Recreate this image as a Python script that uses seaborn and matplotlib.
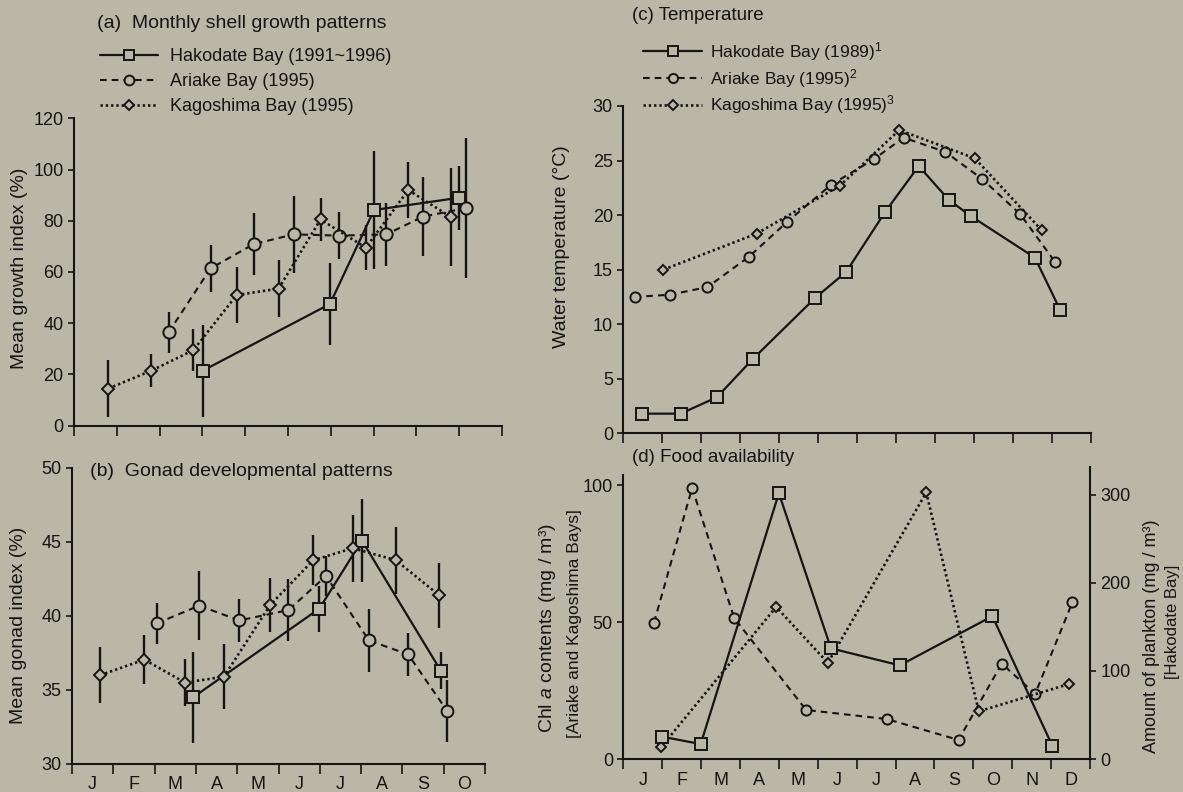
import numpy as np
import matplotlib
matplotlib.use('Agg')
import matplotlib.pyplot as plt
import seaborn as sns
from matplotlib.ticker import FixedLocator, FixedFormatter, NullFormatter

# ---------------- data ----------------
months_a = ['J', 'F', 'M', 'A', 'M', 'J', 'J', 'A', 'S', 'O']
months_d = ['J', 'F', 'M', 'A', 'M', 'J', 'J', 'A', 'S', 'O', 'N', 'D']

# (a) shell growth index (month position, mean, half error bar)
a_hak_x = [3.01, 5.98, 7.01, 9.00]
a_hak_y = [21.5, 47.5, 84.2, 89.0]
a_hak_e = [18.0, 16.0, 23.0, 12.5]
a_ari_x = [2.21, 3.19, 4.20, 5.14, 6.19, 7.30, 8.15, 9.15]
a_ari_y = [36.4, 61.4, 70.9, 74.7, 74.2, 74.7, 81.6, 84.9]
a_ari_e = [8.0, 9.3, 12.2, 15.0, 9.3, 12.2, 15.3, 27.3]
a_kag_x = [0.80, 1.81, 2.79, 3.80, 4.78, 5.76, 6.82, 7.81, 8.80]
a_kag_y = [14.5, 21.5, 29.5, 51.0, 53.5, 80.5, 69.5, 92.0, 81.5]
a_kag_e = [11.2, 6.5, 8.2, 11.0, 11.0, 8.3, 8.8, 11.0, 19.0]

# (b) gonad index
b_hak_x = [2.93, 5.99, 7.02, 8.93]
b_hak_y = [34.5, 40.5, 45.1, 36.3]
b_hak_e = [3.05, 1.55, 2.8, 1.25]
b_ari_x = [2.05, 3.08, 4.05, 5.24, 6.15, 7.19, 8.14, 9.08]
b_ari_y = [39.5, 40.7, 39.7, 40.4, 42.7, 38.35, 37.4, 33.6]
b_ari_e = [1.4, 2.35, 1.45, 2.1, 1.35, 2.15, 1.45, 2.1]
b_kag_x = [0.68, 1.75, 2.74, 3.68, 4.80, 5.84, 6.80, 7.84, 8.89]
b_kag_y = [36.0, 37.05, 35.5, 35.9, 40.75, 43.77, 44.58, 43.77, 41.4]
b_kag_e = [1.9, 1.65, 1.6, 2.2, 1.8, 1.7, 2.25, 2.25, 2.2]

# (c) water temperature
c_hak_x = [0.49, 1.47, 2.40, 3.32, 4.92, 5.72, 6.72, 7.58, 8.35, 8.92, 10.56, 11.21]
c_hak_y = [1.8, 1.8, 3.3, 6.8, 12.4, 14.8, 20.3, 24.5, 21.4, 19.9, 16.1, 11.3]
c_ari_x = [0.29, 1.19, 2.16, 3.23, 4.21, 5.34, 6.42, 7.19, 8.26, 9.21, 10.18, 11.08]
c_ari_y = [12.5, 12.7, 13.4, 16.2, 19.4, 22.8, 25.1, 27.1, 25.8, 23.3, 20.1, 15.7]
c_kag_x = [1.03, 3.42, 5.56, 7.08, 9.02, 10.74]
c_kag_y = [15.0, 18.3, 22.7, 27.8, 25.2, 18.6]

# (d) food availability
d_hak_x = [1.00, 1.99, 4.00, 5.34, 7.11, 9.49, 11.03]     # plankton, mg/m3 (right axis)
d_hak_y = [25.3, 17.0, 302.0, 125.7, 106.4, 162.3, 15.1]
d_ari_x = [0.79, 1.77, 2.85, 4.70, 6.77, 8.62, 9.73, 10.59, 11.55]  # chl a (left axis)
d_ari_y = [49.8, 99.0, 51.5, 17.9, 14.6, 6.95, 34.8, 23.8, 57.3]
d_kag_x = [0.97, 3.93, 5.26, 7.79, 9.14, 11.47]
d_kag_y = [4.3, 55.5, 35.1, 97.3, 17.4, 27.4]

legend_a = ['Hakodate Bay (1991~1996)', 'Ariake Bay (1995)', 'Kagoshima Bay (1995)']
legend_c = ['Hakodate Bay (1989)$^{1}$', 'Ariake Bay (1995)$^{2}$', 'Kagoshima Bay (1995)$^{3}$']

# ---------------- style ----------------
BG = '#bab7a7'
INK = '#151515'

sns.set_theme(style='ticks')
plt.rcParams.update({
    'font.family': ['Liberation Sans', 'DejaVu Sans'],
    'mathtext.fontset': 'custom',
    'mathtext.rm': 'Liberation Sans',
    'mathtext.it': 'Liberation Sans:italic',
    'mathtext.default': 'regular',
    'axes.facecolor': BG, 'figure.facecolor': BG, 'savefig.facecolor': BG,
    'text.color': INK, 'axes.edgecolor': INK, 'axes.labelcolor': INK,
    'xtick.color': INK, 'ytick.color': INK,
    'axes.linewidth': 1.5,
})

W, H = 1183, 792
fig = plt.figure(figsize=(W / 100, H / 100), dpi=100)


def box(l, t, r, b):
    return [l / W, 1 - b / H, (r - l) / W, (b - t) / H]


ax_a = fig.add_axes(box(74, 118.3, 502, 425.7))
ax_b = fig.add_axes(box(72, 468, 485, 764))
ax_c = fig.add_axes(box(623.3, 106, 1091, 433.3))
ax_d = fig.add_axes(box(623.3, 467, 1090, 759))
ax_d2 = ax_d.twinx()

STY = {
    'hak': dict(ls='-', marker='s'),
    'ari': dict(ls=(0, (3.2, 2.4)), marker='o'),
    'kag': dict(ls=(0, (0.9, 1.1)), marker='D'),
}


def series(ax, x, y, key, ms, err=None, lw=1.5):
    x = np.asarray(x, float)
    y = np.asarray(y, float)
    if err is not None:
        e = np.asarray(err, float)
        ax.vlines(x, y - e, y + e, color=INK, lw=1.7, zorder=2)
    sns.lineplot(x=x, y=y, ax=ax, color=INK, sort=False, estimator=None,
                 legend=False, marker=STY[key]['marker'], markersize=ms,
                 markerfacecolor=BG, markeredgecolor=INK, markeredgewidth=1.4,
                 linewidth=lw, zorder=3)
    line = ax.lines[-1]
    line.set_linestyle(STY[key]['ls'])
    if key == 'kag':
        line.set_linewidth(lw + 0.4)
    return line


# (a)
la_h = series(ax_a, a_hak_x, a_hak_y, 'hak', 9, a_hak_e, lw=1.6)
la_a = series(ax_a, a_ari_x, a_ari_y, 'ari', 8.8, a_ari_e)
la_k = series(ax_a, a_kag_x, a_kag_y, 'kag', 6.2, a_kag_e)
# (b)
series(ax_b, b_hak_x, b_hak_y, 'hak', 8.2, b_hak_e, lw=1.6)
series(ax_b, b_ari_x, b_ari_y, 'ari', 8.5, b_ari_e)
series(ax_b, b_kag_x, b_kag_y, 'kag', 6, b_kag_e)
# (c)
lc_h = series(ax_c, c_hak_x, c_hak_y, 'hak', 8.3, lw=1.6)
lc_a = series(ax_c, c_ari_x, c_ari_y, 'ari', 7.3)
lc_k = series(ax_c, c_kag_x, c_kag_y, 'kag', 5.5)
# (d)
series(ax_d, d_ari_x, d_ari_y, 'ari', 7.3)
series(ax_d, d_kag_x, d_kag_y, 'kag', 5.5)
series(ax_d2, d_hak_x, d_hak_y, 'hak', 8.3, lw=1.6)

# ---------------- axes ----------------
TK = 13
for ax in (ax_a, ax_b, ax_c, ax_d):
    ax.spines['top'].set_visible(False)
    ax.spines['right'].set_visible(False)
    ax.tick_params(axis='x', which='major', direction='out', length=7, width=1.2)
    ax.tick_params(axis='y', which='major', direction='out', length=4.5, width=1.2,
                   labelsize=TK, pad=3)
    ax.set_xlabel('')
    ax.set_ylabel('')

ax_a.set_xlim(0, 10)
ax_a.set_ylim(0, 120)
ax_a.set_yticks(range(0, 121, 20))
ax_a.xaxis.set_major_locator(FixedLocator(range(0, 11)))
ax_a.xaxis.set_major_formatter(NullFormatter())

ax_b.set_xlim(0, 10)
ax_b.set_ylim(30, 50)
ax_b.set_yticks(range(30, 51, 5))
ax_b.xaxis.set_major_locator(FixedLocator(range(0, 11)))
ax_b.xaxis.set_major_formatter(NullFormatter())
ax_b.xaxis.set_minor_locator(FixedLocator(np.arange(10) + 0.5))
ax_b.xaxis.set_minor_formatter(FixedFormatter(months_a))
ax_b.tick_params(axis='x', which='minor', length=0, labelsize=TK, pad=8.5)

ax_c.set_xlim(0, 12)
ax_c.set_ylim(0, 30)
ax_c.set_yticks(range(0, 31, 5))
ax_c.xaxis.set_major_locator(FixedLocator(range(0, 13)))
ax_c.xaxis.set_major_formatter(NullFormatter())

ax_d.set_xlim(0, 12)
ax_d.set_ylim(0, 106.6)
ax_d.set_yticks([0, 50, 100])
ax_d.spines['left'].set_bounds(0, 103.6)
ax_d.xaxis.set_major_locator(FixedLocator(range(0, 13)))
ax_d.xaxis.set_major_formatter(NullFormatter())
ax_d.xaxis.set_minor_locator(FixedLocator(np.arange(12) + 0.5))
ax_d.xaxis.set_minor_formatter(FixedFormatter(months_d))
ax_d.tick_params(axis='x', which='minor', length=0, labelsize=TK, pad=9.5)

ax_d2.set_ylim(0, 331.8)
ax_d2.set_yticks([0, 100, 200, 300])
for s in ('top', 'left', 'bottom'):
    ax_d2.spines[s].set_visible(False)
ax_d2.spines['right'].set_linewidth(1.5)
ax_d2.tick_params(axis='y', direction='out', length=4.5, width=1.2, labelsize=TK, pad=3)
ax_d2.set_ylabel('')

# ---------------- texts ----------------
fig.text(97 / W, 1 - 24 / H, '(a)  Monthly shell growth patterns', ha='left', va='center', fontsize=14)
fig.text(90 / W, 1 - 472 / H, '(b)  Gonad developmental patterns', ha='left', va='center', fontsize=14)
fig.text(632 / W, 1 - 16 / H, '(c) Temperature', ha='left', va='center', fontsize=13.5)
fig.text(632 / W, 1 - 458 / H, '(d) Food availability', ha='left', va='center', fontsize=13.5)

fig.text(20 / W, 1 - 268 / H, 'Mean growth index (%)', rotation=90, ha='center', va='center', fontsize=14)
fig.text(19 / W, 1 - 625 / H, 'Mean gonad index (%)', rotation=90, ha='center', va='center', fontsize=14)
fig.text(562 / W, 1 - 247 / H, 'Water temperature (°C)', rotation=90, ha='center', va='center', fontsize=14)
fig.text(547 / W, 1 - 628 / H, r'Chl $\mathit{a}$ contents (mg / m³)', rotation=90, ha='center', va='center', fontsize=14)
fig.text(575 / W, 1 - 624 / H, '[Ariake and Kagoshima Bays]', rotation=90, ha='center', va='center', fontsize=12.5)
fig.text(1152 / W, 1 - 636 / H, 'Amount of plankton (mg / m³)', rotation=90, ha='center', va='center', fontsize=13)
fig.text(1172 / W, 1 - 622 / H, '[Hakodate Bay]', rotation=90, ha='center', va='center', fontsize=12)

# ---------------- legends ----------------
fig.legend(handles=[la_h, la_a, la_k], labels=legend_a, loc='upper left',
           bbox_to_anchor=(100 / W, 1 - 48 / H), frameon=False, fontsize=13,
           handlelength=3.2, handletextpad=0.66, labelspacing=0.45,
           borderpad=0, borderaxespad=0, numpoints=1, markerscale=0.8)
fig.legend(handles=[lc_h, lc_a, lc_k], labels=legend_c, loc='upper left',
           bbox_to_anchor=(643 / W, 1 - 40 / H), frameon=False, fontsize=12.5,
           handlelength=3.4, handletextpad=0.45, labelspacing=0.22,
           borderpad=0, borderaxespad=0, numpoints=1, markerscale=0.9)

fig.savefig('out.png', dpi=100, facecolor=BG)
